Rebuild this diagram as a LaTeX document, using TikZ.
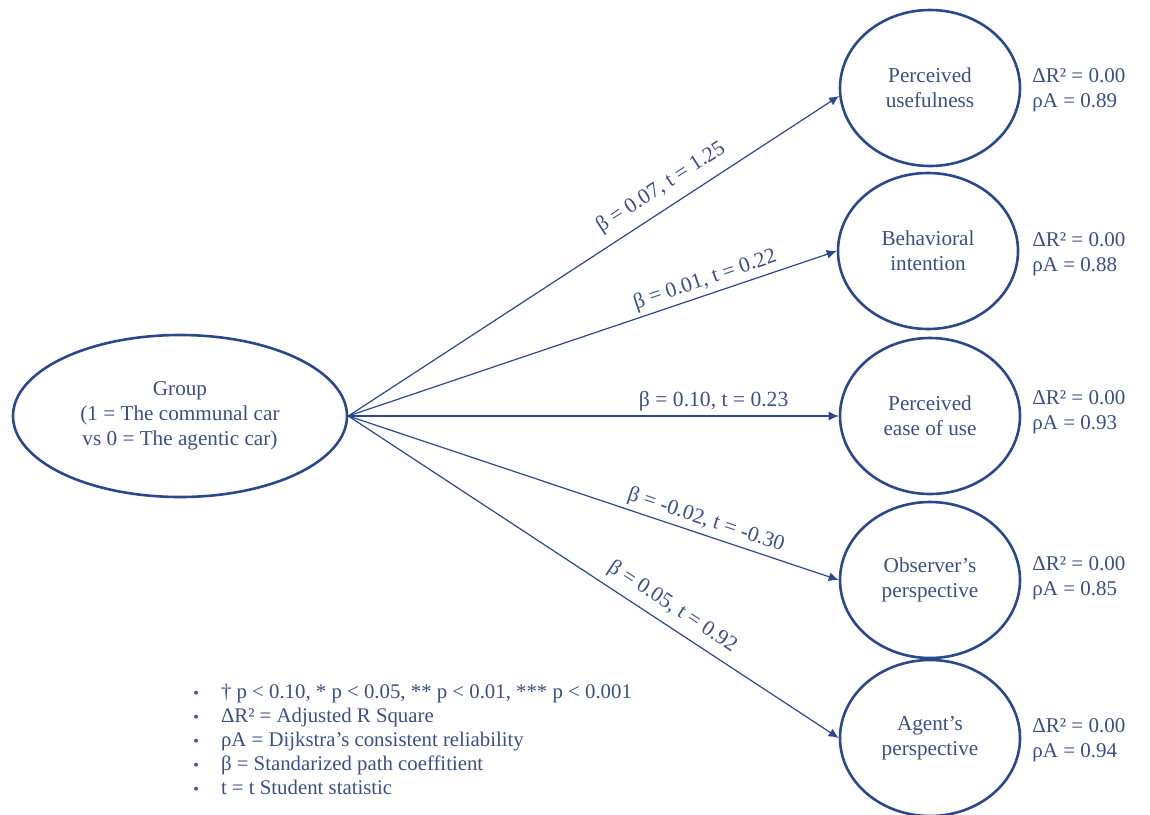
\documentclass[tikz,border=0pt]{standalone}
\usepackage{fontspec}
\setmainfont{Liberation Serif}
\usetikzlibrary{arrows.meta,shapes.geometric}
\definecolor{dblue}{RGB}{44,72,140}
\definecolor{tblue}{RGB}{58,78,135}
\begin{document}
\begin{tikzpicture}[x=0.5pt,y=-0.5pt,
  latent/.style={ellipse, draw=dblue, line width=1.3pt, minimum width=90pt, minimum height=78pt, inner sep=0pt, align=center, text=tblue, font=\fontsize{10.6}{12.5}\selectfont},
  pathline/.style={draw=dblue, line width=0.6pt, -{Latex[length=5pt,width=4.5pt]}},
  coef/.style={text=tblue, font=\fontsize{10.8}{12}\selectfont, sloped, inner sep=2pt},
  stat/.style={anchor=west, align=left, text=tblue, font=\fontsize{10.5}{12.5}\selectfont, inner sep=0pt}]
\useasboundingbox (0,0) rectangle (1150,814);

\node[latent, minimum width=167pt, minimum height=81pt] (g) at (180,416) {Group\\(1 = The communal car\\vs 0 = The agentic car)};

\node[latent] (pu) at (930,88) {Perceived\\usefulness};
\node[latent] (bi) at (928,251) {Behavioral\\intention};
\node[latent] (pe) at (930,416) {Perceived\\ease of use};
\node[latent] (op) at (930,580) {Observer’s\\perspective};
\node[latent] (ap) at (930,738) {Agent’s\\perspective};

\node[stat] (spu) at (1032,90) {ΔR² = 0.00\\ρA = 0.89};
\node[stat] (sbi) at (1032,254) {ΔR² = 0.00\\ρA = 0.88};
\node[stat] (spe) at (1032,412) {ΔR² = 0.00\\ρA = 0.93};
\node[stat] (sop) at (1032,578) {ΔR² = 0.00\\ρA = 0.85};
\node[stat] (sap) at (1032,740) {ΔR² = 0.00\\ρA = 0.94};

\draw[pathline] (g.east) -- node[coef, above=3pt, pos=0.66] {β = 0.07, t = 1.25} (pu.185);
\draw[pathline] (g.east) -- node[coef, above, pos=0.74] {β = 0.01, t = 0.22} (bi.west);
\draw[pathline] (g.east) -- node[coef, above, pos=0.745] {β = 0.10, t = 0.23} (pe.west);
\draw[pathline] (g.east) -- node[coef, above, pos=0.72] {β = -0.02, t = -0.30} (op.west);
\draw[pathline] (g.east) -- node[coef, above=2pt, pos=0.64] {β = 0.05, t = 0.92} (ap.west);

\node[anchor=west, text=tblue, font=\fontsize{10.4}{12}\selectfont, inner sep=0pt] (leg) at (193,742) {%
\begin{tabular}{@{}l@{\hspace{11pt}}l@{}}
{\fontsize{8}{12}\selectfont •} & † p < 0.10, * p < 0.05, ** p < 0.01, *** p < 0.001\\
{\fontsize{8}{12}\selectfont •} & ΔR² = Adjusted R Square\\
{\fontsize{8}{12}\selectfont •} & ρA = Dijkstra’s consistent reliability\\
{\fontsize{8}{12}\selectfont •} & β = Standarized path coeffitient\\
{\fontsize{8}{12}\selectfont •} & t = t Student statistic
\end{tabular}};
\end{tikzpicture}
\end{document}
